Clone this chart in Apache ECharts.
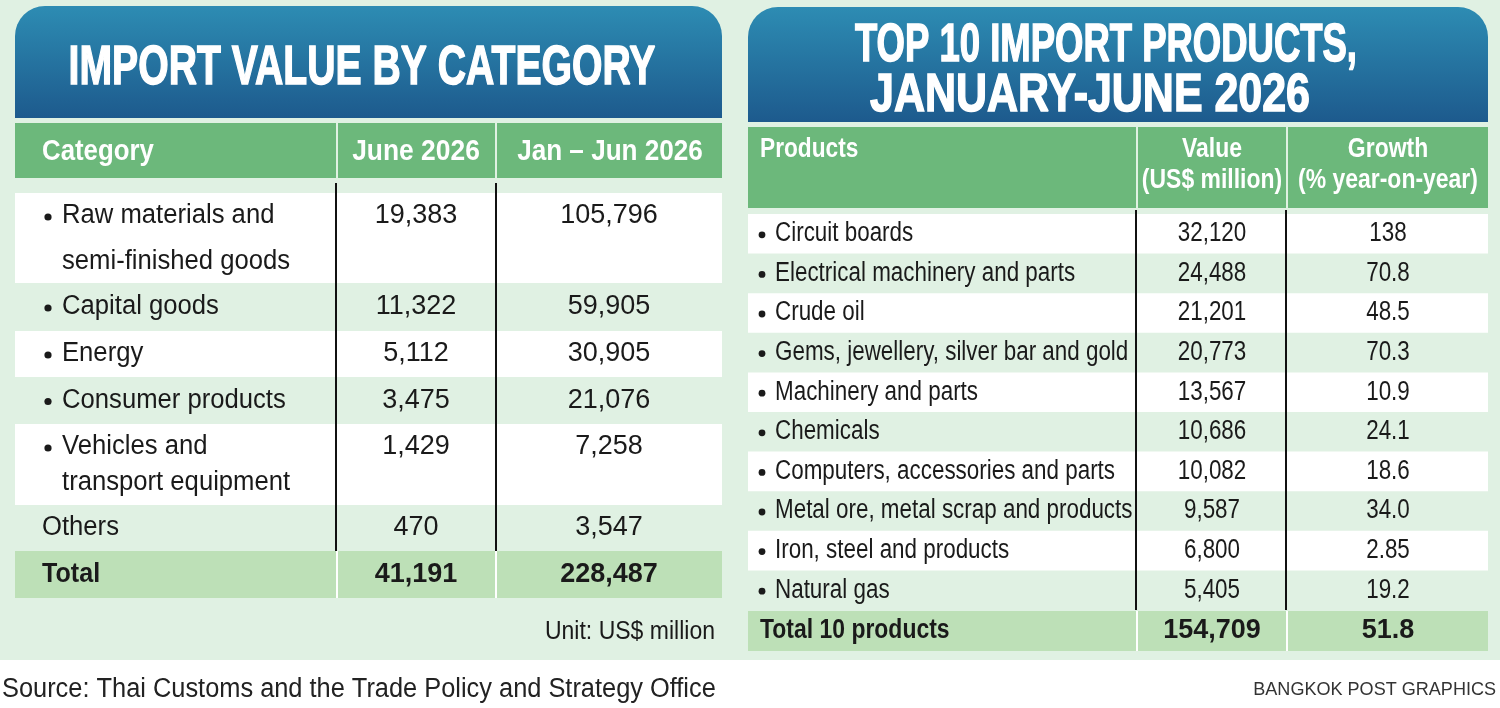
<!DOCTYPE html>
<html>
<head>
<meta charset="utf-8">
<title>Import value</title>
<script src="https://cdn.jsdelivr.net/npm/echarts@6/dist/echarts.min.js"></script>
<style>
  html, body { margin: 0; padding: 0; background: #fff; }
  #main { width: 1500px; height: 708px; }
</style>
</head>
<body>
<div id="main"></div>
<script>
// 左表：按类别的进口值
var catTitle = 'IMPORT VALUE BY CATEGORY';
var catHeaders = ['Category', 'June 2026', 'Jan \u2013 Jun 2026'];
var catNames = [
  ['Raw materials and', 'semi-finished goods'],
  ['Capital goods'],
  ['Energy'],
  ['Consumer products'],
  ['Vehicles and', 'transport equipment'],
  ['Others']
];
var catBullet = [true, true, true, true, true, false];
var catJune = ['19,383', '11,322', '5,112', '3,475', '1,429', '470'];
var catJanJun = ['105,796', '59,905', '30,905', '21,076', '7,258', '3,547'];
var catTotal = ['Total', '41,191', '228,487'];
var catUnit = 'Unit: US$ million';

// 右表：前10大进口商品
var prodTitle = ['TOP 10 IMPORT PRODUCTS,', 'JANUARY-JUNE 2026'];
var prodHeaders = [['Products'], ['Value', '(US$ million)'], ['Growth', '(% year-on-year)']];
var prodNames = [
  'Circuit boards',
  'Electrical machinery and parts',
  'Crude oil',
  'Gems, jewellery, silver bar and gold',
  'Machinery and parts',
  'Chemicals',
  'Computers, accessories and parts',
  'Metal ore, metal scrap and products',
  'Iron, steel and products',
  'Natural gas'
];
var prodValues = ['32,120', '24,488', '21,201', '20,773', '13,567', '10,686', '10,082', '9,587', '6,800', '5,405'];
var prodGrowth = ['138', '70.8', '48.5', '70.3', '10.9', '24.1', '18.6', '34.0', '2.85', '19.2'];
var prodTotal = ['Total 10 products', '154,709', '51.8'];

var sourceText = 'Source: Thai Customs and the Trade Policy and Strategy Office';
var creditText = 'BANGKOK POST GRAPHICS';

var chart = echarts.init(document.getElementById('main'));

var FONT = '"Liberation Sans", Arial, sans-serif';
var PANEL_BG = '#e0f1e3';
var HEAD_GREEN = '#6cb87b';
var TOTAL_GREEN = '#bde0b7';
var INK = '#1a1a1a';

function blueGrad() {
  return new echarts.graphic.LinearGradient(0, 0, 0, 1, [
    {offset: 0, color: '#2d8cb3'},
    {offset: 1, color: '#1d5a8d'}
  ]);
}

// 量文字宽度，用来把标题压缩到目标宽度
var measureCtx = document.createElement('canvas').getContext('2d');
function fontStr(size, bold) {
  return (bold ? 'bold ' : '') + size + 'px ' + FONT;
}
function fitScale(str, size, bold, width) {
  measureCtx.font = fontStr(size, bold);
  return width / measureCtx.measureText(str).width;
}

var els = [];
function rect(x, y, w, h, fill, r) {
  els.push({type: 'rect', silent: true, shape: {x: x, y: y, width: w, height: h, r: r || 0}, style: {fill: fill}});
}
function line(x1, y1, x2, y2, color, width) {
  els.push({type: 'line', silent: true, shape: {x1: x1, y1: y1, x2: x2, y2: y2}, style: {stroke: color, lineWidth: width}});
}
function dot(cx, cy, r) {
  els.push({type: 'circle', silent: true, shape: {cx: cx, cy: cy, r: r}, style: {fill: INK}});
}
function text(str, x, y, size, opt) {
  opt = opt || {};
  var align = opt.align || 'left';
  var style = {
    text: str, x: 0, y: 0,
    font: fontStr(size, opt.bold),
    fill: opt.color || INK,
    align: align, textAlign: align,
    verticalAlign: 'middle', textVerticalAlign: 'middle'
  };
  if (opt.heavy) {
    // 标题字体加粗一点
    style.stroke = opt.color || INK;
    style.lineWidth = opt.heavy;
  }
  els.push({type: 'text', silent: true, x: x, y: y, scaleX: opt.sx || 1, style: style});
}

// 背景
rect(0, 0, 1500, 660, PANEL_BG);

/* 左表 */
var L = {x: 15, w: 707, cols: [[15, 321], [338, 157], [497, 225]]};
var LBL = 0.95;   // 左表文字横向压缩
rect(L.x, 6, L.w, 112, blueGrad(), [30, 30, 0, 0]);
text(catTitle, 362, 69, 56, {bold: true, color: '#fff', align: 'center', heavy: 1.5, sx: fitScale(catTitle, 56, true, 587)});

// 表头
L.cols.forEach(function (c) { rect(c[0], 123, c[1], 55, HEAD_GREEN); });
text(catHeaders[0], 42, 152, 29, {bold: true, color: '#fff', sx: 0.89});
text(catHeaders[1], 416, 152, 29, {bold: true, color: '#fff', align: 'center', sx: 0.91});
text(catHeaders[2], 610, 152, 29, {bold: true, color: '#fff', align: 'center', sx: 0.9});

// 行
var rowH = [90, 48, 46, 47, 81, 46];
var lineGap = [46, 0, 0, 0, 36, 0];
var y = 193;
catNames.forEach(function (lines, i) {
  var h = rowH[i];
  if (i % 2 === 0) rect(L.x, y, L.w, h, '#fff');
  var ty = lines.length > 1 ? y + 23 : y + h / 2;
  if (catBullet[i]) dot(48, ty + 1, 3.6);
  lines.forEach(function (s, k) {
    text(s, catBullet[i] ? 62 : 42, ty + k * lineGap[i], 27, {sx: LBL});
  });
  text(catJune[i], 416, ty, 27, {align: 'center'});
  text(catJanJun[i], 609, ty, 27, {align: 'center'});
  y += h;
});
line(336, 183, 336, y, '#111', 2);
line(496, 183, 496, y, '#111', 2);

// 合计
rect(L.x, y, L.w, 47, TOTAL_GREEN);
line(337, y, 337, y + 47, '#fff', 2);
line(496, y, 496, y + 47, '#fff', 2);
text(catTotal[0], 42, y + 24, 27, {bold: true, sx: 0.93});
text(catTotal[1], 416, y + 24, 27, {bold: true, align: 'center'});
text(catTotal[2], 609, y + 24, 27, {bold: true, align: 'center'});
text(catUnit, 715, 632, 26, {align: 'right', sx: 0.885});

/* 右表 */
var R = {x: 748, w: 740, cols: [[748, 388], [1138, 148], [1288, 200]]};
var RBL = 0.83;   // 右表文字横向压缩
rect(R.x, 7, R.w, 115, blueGrad(), [30, 30, 0, 0]);
text(prodTitle[0], 1106, 46, 53, {bold: true, color: '#fff', align: 'center', heavy: 1.5, sx: fitScale(prodTitle[0], 53, true, 502)});
text(prodTitle[1], 1090, 96, 53, {bold: true, color: '#fff', align: 'center', heavy: 1.5, sx: fitScale(prodTitle[1], 53, true, 440)});

R.cols.forEach(function (c) { rect(c[0], 127, c[1], 81, HEAD_GREEN); });
text(prodHeaders[0][0], 760, 150, 27, {bold: true, color: '#fff', sx: 0.84});
var colCx = [0, 1212, 1388];
[1, 2].forEach(function (ci) {
  prodHeaders[ci].forEach(function (s, k) {
    text(s, colCx[ci], 150 + k * 31, 27, {bold: true, color: '#fff', align: 'center', sx: 0.85});
  });
});

var ry = 214, rh = 39.6;
prodNames.forEach(function (name, i) {
  var top = ry + i * rh;
  if (i % 2 === 0) rect(R.x, top, R.w, rh, '#fff');
  var cy = top + rh / 2;
  dot(762, cy + 1, 3.4);
  text(name, 775, cy, 27, {sx: RBL});
  text(prodValues[i], colCx[1], cy, 27, {align: 'center', sx: RBL});
  text(prodGrowth[i], colCx[2], cy, 27, {align: 'center', sx: RBL});
});
var rEnd = ry + prodNames.length * rh;
line(1136, 210, 1136, rEnd, '#111', 2);
line(1286, 210, 1286, rEnd, '#111', 2);

rect(R.x, rEnd + 1, R.w, 40, TOTAL_GREEN);
line(1137, rEnd + 1, 1137, rEnd + 41, '#fff', 2);
line(1287, rEnd + 1, 1287, rEnd + 41, '#fff', 2);
text(prodTotal[0], 760, rEnd + 21, 27, {bold: true, sx: 0.85});
text(prodTotal[1], colCx[1], rEnd + 21, 27, {bold: true, align: 'center'});
text(prodTotal[2], colCx[2], rEnd + 21, 27, {bold: true, align: 'center'});

// 来源
text(sourceText, 2, 690, 27, {color: '#222', sx: 0.94});
text(creditText, 1496, 690, 19, {color: '#333', align: 'right', sx: 0.95});

chart.setOption({
  animation: false,
  graphic: {elements: els}
});
</script>
</body>
</html>
